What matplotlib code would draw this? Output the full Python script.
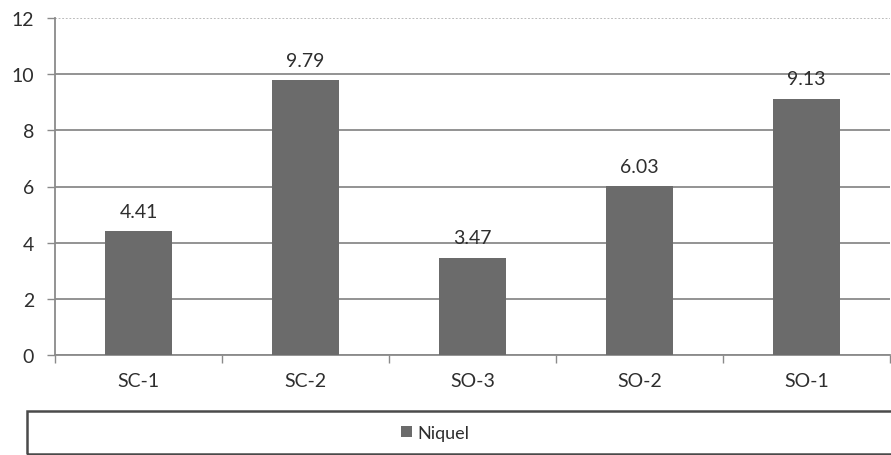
import matplotlib.pyplot as plt
from matplotlib.patches import Rectangle
import numpy as np

# nickel content per sampling point
sites = ["SC-1", "SC-2", "SO-3", "SO-2", "SO-1"]
niquel = [4.41, 9.79, 3.47, 6.03, 9.13]
y_ticks = [0, 2, 4, 6, 8, 10, 12]

plt.rcParams['font.family'] = ['Lato', 'DejaVu Sans']

bar_color = '#6b6b6b'
grid_color = '#8a8a8a'
text_color = '#2e2e2e'

fig = plt.figure(figsize=(8.91, 4.56), dpi=100)
ax = fig.add_axes([55 / 891, 100 / 456, 835 / 891, 337 / 456])

x = np.arange(len(sites))
bars = ax.bar(x, niquel, width=0.4, color=bar_color, zorder=3, label='Niquel')
ax.bar_label(bars, labels=[f"{v:.2f}" for v in niquel], padding=8,
             fontsize=14, color=text_color)

ax.set_xlim(-0.5, len(sites) - 0.5)
ax.set_ylim(0, 12)
ax.set_yticks(y_ticks)
ax.tick_params(axis='y', labelsize=14, colors=grid_color, labelcolor=text_color,
               length=6, width=1, pad=9)

# category labels between boundary ticks
ax.set_xticks(x)
ax.set_xticklabels(sites, fontsize=14, color=text_color)
ax.set_xticks(np.arange(len(sites) + 1) - 0.5, minor=True)
ax.tick_params(axis='x', which='major', length=0, pad=12)
ax.tick_params(axis='x', which='minor', length=6, width=1, colors=grid_color)

ax.grid(True, axis='y', color=grid_color, linewidth=1.3, zorder=0)
# topmost gridline is fainter
top_line = ax.get_ygridlines()[-1]
top_line.set_color('#b5b5b5')
top_line.set_linestyle((0, (1, 1)))
for side in ['top', 'right']:
    ax.spines[side].set_visible(False)
ax.spines['left'].set_color(grid_color)
ax.spines['bottom'].set_color(grid_color)
ax.spines['left'].set_linewidth(1.3)
ax.spines['bottom'].set_linewidth(1.3)

# legend panel across the bottom
fig.patches.append(Rectangle((27 / 891, 1 / 456), 870 / 891, 43 / 456,
                             transform=fig.transFigure, fill=False,
                             edgecolor='#4a4a4a', linewidth=1.8))
fig.legend(handles=[bars], labels=['Niquel'], loc='center',
           bbox_to_anchor=(435 / 891, 22 / 456), frameon=False, fontsize=13,
           handlelength=0.6, handleheight=0.6, handletextpad=0.3,
           labelcolor=text_color)

fig.savefig("out.png", dpi=100)
